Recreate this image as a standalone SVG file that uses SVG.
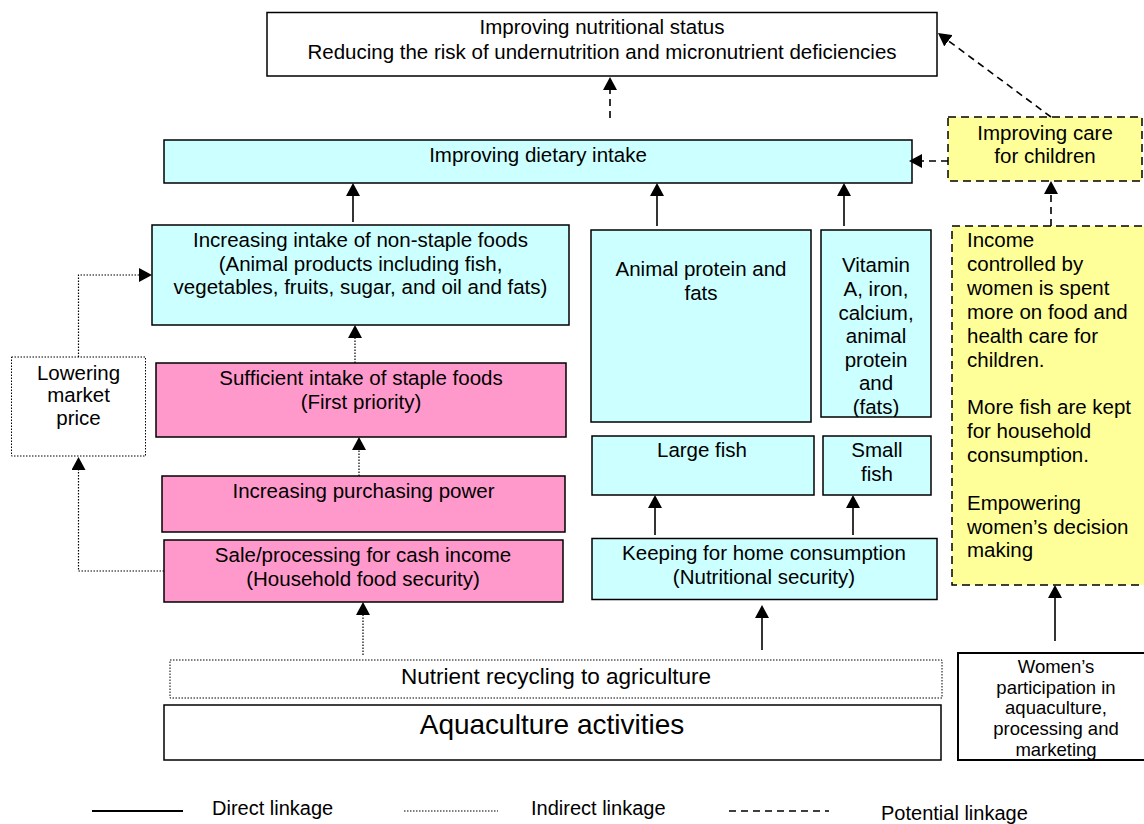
<svg xmlns="http://www.w3.org/2000/svg" width="1144" height="824" viewBox="0 0 1144 824">
<style>
  text { font-family: "Liberation Sans", Arial, sans-serif; font-size: 20.5px; fill: #000; }
  .c { text-anchor: middle; }
  .box { stroke: #000; stroke-width: 1.5; }
  .white { fill: #fff; }
  .cyan { fill: #CCFFFF; }
  .pink { fill: #FF99CC; }
  .yellow { fill: #FFFF99; stroke: #000; stroke-width: 1.5; stroke-dasharray: 8 5; }
  .dotbox { fill: #fff; stroke: #000; stroke-width: 1; stroke-dasharray: 1.5 1.5; }
  .solid { fill: none; stroke: #000; stroke-width: 1.6; }
  .dotted { fill: none; stroke: #000; stroke-width: 1.2; stroke-dasharray: 1.5 1.5; }
  .dashed { fill: none; stroke: #000; stroke-width: 1.6; stroke-dasharray: 7 5; }
</style>
<defs>
  <marker id="ah" viewBox="0 0 13 14" refX="0" refY="7" markerWidth="13" markerHeight="14" orient="auto" markerUnits="userSpaceOnUse">
    <path d="M0,0 L13,7 L0,14 Z" fill="#000"/>
  </marker>
  <clipPath id="clipVit"><rect x="821" y="230" width="110" height="187"/></clipPath>
  <clipPath id="clipWomen"><rect x="958" y="653" width="190" height="106"/></clipPath>
</defs>

<g id="node-nutritional-status">
  <rect class="box white" x="267" y="12.5" width="670" height="63.5"/>
  <text class="c" x="602" y="34">Improving nutritional status</text>
  <text class="c" x="602" y="59">Reducing the risk of undernutrition and micronutrient deficiencies</text>
</g>

<g id="node-dietary-intake">
  <rect class="box cyan" x="164" y="140" width="748" height="43"/>
  <text class="c" x="538" y="162">Improving dietary intake</text>
</g>

<g id="node-care-children">
  <rect class="yellow" x="948" y="117" width="194" height="64"/>
  <text class="c" x="1045" y="140">Improving care</text>
  <text class="c" x="1045" y="163">for children</text>
</g>

<g id="node-non-staple">
  <rect class="box cyan" x="152" y="225" width="417" height="100"/>
  <text class="c" x="360.5" y="247">Increasing intake of non-staple foods</text>
  <text class="c" x="360.5" y="270.5">(Animal products including fish,</text>
  <text class="c" x="360.5" y="294">vegetables, fruits, sugar, and oil and fats)</text>
</g>

<g id="node-animal-protein">
  <rect class="box cyan" x="591" y="230" width="220" height="192"/>
  <text class="c" x="701" y="276">Animal protein and</text>
  <text class="c" x="701" y="300">fats</text>
</g>

<g id="node-vitamin">
  <rect class="box cyan" x="821" y="230" width="110" height="187"/>
  <g clip-path="url(#clipVit)">
    <text class="c" x="876" y="272">Vitamin</text>
    <text class="c" x="876" y="296">A, iron,</text>
    <text class="c" x="876" y="319.5">calcium,</text>
    <text class="c" x="876" y="343">animal</text>
    <text class="c" x="876" y="367">protein</text>
    <text class="c" x="876" y="390">and</text>
    <text class="c" x="876" y="414">(fats)</text>
  </g>
</g>

<g id="node-women-income">
  <rect class="yellow" x="952" y="226" width="200" height="359"/>
  <text x="967" y="247">Income</text>
  <text x="967" y="271">controlled by</text>
  <text x="967" y="295">women is spent</text>
  <text x="967" y="318.5">more on food and</text>
  <text x="967" y="342.5">health care for</text>
  <text x="967" y="366.5">children.</text>
  <text x="967" y="414">More fish are kept</text>
  <text x="967" y="438">for household</text>
  <text x="967" y="461.5">consumption.</text>
  <text x="967" y="510">Empowering</text>
  <text x="967" y="533.5">women’s decision</text>
  <text x="967" y="557">making</text>
</g>

<g id="node-lowering-price">
  <rect class="dotbox" x="11.5" y="357" width="134" height="99"/>
  <text class="c" x="78.5" y="380">Lowering</text>
  <text class="c" x="78.5" y="402">market</text>
  <text class="c" x="78.5" y="425">price</text>
</g>

<g id="node-staple">
  <rect class="box pink" x="156" y="363" width="410" height="74"/>
  <text class="c" x="361" y="385">Sufficient intake of staple foods</text>
  <text class="c" x="361" y="409">(First priority)</text>
</g>

<g id="node-large-fish">
  <rect class="box cyan" x="592" y="436" width="222" height="59"/>
  <text class="c" x="702" y="457">Large fish</text>
</g>

<g id="node-small-fish">
  <rect class="box cyan" x="823" y="436" width="108" height="59"/>
  <text class="c" x="877" y="457">Small</text>
  <text class="c" x="877" y="481">fish</text>
</g>

<g id="node-purchasing-power">
  <rect class="box pink" x="162" y="476" width="403" height="56"/>
  <text class="c" x="363.5" y="498">Increasing purchasing power</text>
</g>

<g id="node-sale">
  <rect class="box pink" x="164" y="540" width="399" height="62"/>
  <text class="c" x="363" y="562">Sale/processing for cash income</text>
  <text class="c" x="363" y="586">(Household food security)</text>
</g>

<g id="node-keeping">
  <rect class="box cyan" x="592" y="538.5" width="345" height="61"/>
  <text class="c" x="764" y="560">Keeping for home consumption</text>
  <text class="c" x="764" y="584">(Nutritional security)</text>
</g>

<g id="node-nutrient-recycling">
  <rect class="dotbox" x="170" y="660" width="772" height="38"/>
  <text class="c" x="556" y="684" style="font-size:22.5px">Nutrient recycling to agriculture</text>
</g>

<g id="node-aquaculture">
  <rect class="box white" x="164" y="705" width="777" height="55"/>
  <text class="c" x="552" y="734" style="font-size:28px">Aquaculture activities</text>
</g>

<g id="node-women-participation">
  <rect class="white" x="958" y="653" width="200" height="107" stroke="#000" stroke-width="2"/>
  <g clip-path="url(#clipWomen)" style="font-size:18.5px">
    <text class="c" x="1056" y="673" style="font-size:18.5px">Women’s</text>
    <text class="c" x="1056" y="693.5" style="font-size:18.5px">participation in</text>
    <text class="c" x="1056" y="714" style="font-size:18.5px">aquaculture,</text>
    <text class="c" x="1056" y="735" style="font-size:18.5px">processing and</text>
    <text class="c" x="1056" y="755.5" style="font-size:18.5px">marketing</text>
  </g>
</g>

<g id="connectors">
  <!-- direct -->
  <line class="solid" x1="353" y1="222" x2="353" y2="196" marker-end="url(#ah)"/>
  <line class="solid" x1="657" y1="226" x2="657" y2="196" marker-end="url(#ah)"/>
  <line class="solid" x1="844" y1="226" x2="844" y2="196" marker-end="url(#ah)"/>
  <line class="solid" x1="655" y1="535" x2="655" y2="508" marker-end="url(#ah)"/>
  <line class="solid" x1="853" y1="535" x2="853" y2="508" marker-end="url(#ah)"/>
  <line class="solid" x1="762" y1="650" x2="762" y2="618" marker-end="url(#ah)"/>
  <line class="solid" x1="1055" y1="641" x2="1055" y2="598" marker-end="url(#ah)"/>
  <!-- indirect -->
  <line class="dotted" x1="355" y1="363" x2="355" y2="338" marker-end="url(#ah)"/>
  <line class="dotted" x1="359" y1="476" x2="359" y2="450" marker-end="url(#ah)"/>
  <line class="dotted" x1="363" y1="655" x2="363" y2="615" marker-end="url(#ah)"/>
  <polyline class="dotted" points="164,571 78.5,571 78.5,470" marker-end="url(#ah)"/>
  <polyline class="dotted" points="78.5,357 78.5,275 139,275" marker-end="url(#ah)"/>
  <!-- potential -->
  <line class="dashed" x1="610" y1="118" x2="610" y2="90" marker-end="url(#ah)"/>
  <line class="dashed" x1="948" y1="161" x2="922" y2="161" marker-end="url(#ah)"/>
  <line class="dashed" x1="1051" y1="226" x2="1051" y2="194" marker-end="url(#ah)"/>
  <line class="dashed" x1="1051" y1="117" x2="948.4" y2="40.8" marker-end="url(#ah)"/>
</g>

<g id="legend">
  <line x1="92" y1="811" x2="183" y2="811" stroke="#000" stroke-width="2"/>
  <text x="212" y="815" style="font-size:20px">Direct linkage</text>
  <line x1="404" y1="811" x2="498" y2="811" stroke="#000" stroke-width="1" stroke-dasharray="1.5 1.5"/>
  <text x="531" y="815" style="font-size:20px">Indirect linkage</text>
  <line x1="729" y1="811" x2="829" y2="811" stroke="#000" stroke-width="1.6" stroke-dasharray="7 5"/>
  <text x="881" y="820" style="font-size:20px">Potential linkage</text>
</g>
</svg>
